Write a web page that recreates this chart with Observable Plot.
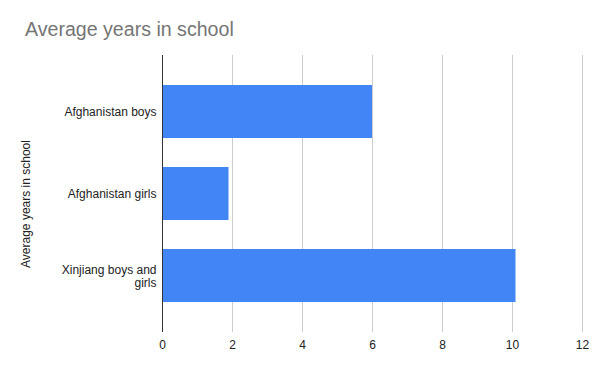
<!DOCTYPE html>
<html>
<head>
<meta charset="utf-8">
<script src="https://cdn.jsdelivr.net/npm/d3@7"></script>
<script src="https://cdn.jsdelivr.net/npm/@observablehq/plot@0.6"></script>
<style>
  html, body { margin: 0; padding: 0; background: #fff; }
  #wrap { position: relative; width: 600px; height: 371px; font-family: "Liberation Sans", Arial, sans-serif; }
  #title { position: absolute; left: 25px; top: 18px; font-size: 19.6px; color: #757575; white-space: nowrap; }
  #ylab { position: absolute; left: 26px; top: 204px; font-size: 12px; color: #222; white-space: nowrap;
          transform: translate(-50%, -50%) rotate(-90deg); }
</style>
</head>
<body>
<div id="wrap">
  <div id="chart"></div>
  <div id="title">Average years in school</div>
  <div id="ylab">Average years in school</div>
</div>
<script>
const categories = ["Afghanistan boys", "Afghanistan girls", "Xinjiang boys and girls"];
const values = [6.0, 1.9, 10.1];
const xTicks = [0, 2, 4, 6, 8, 10, 12];

const data = categories.map((c, i) => ({category: c, value: values[i]}));

const chart = Plot.plot({
  width: 600,
  height: 371,
  marginLeft: 162,
  marginRight: 18,
  marginTop: 55,
  marginBottom: 39,
  style: {fontFamily: "'Liberation Sans', Arial, sans-serif", fontSize: "12px", color: "#222", background: "#fff"},
  x: {domain: [0, 12], label: null},
  y: {domain: categories, padding: 0.35, label: null},
  marks: [
    Plot.gridX(xTicks, {stroke: "#cccccc", strokeOpacity: 1, strokeWidth: 1}),
    Plot.barX(data, {x: "value", y: "category", fill: "#4285f4"}),
    Plot.ruleX([0], {stroke: "#333333", strokeWidth: 1}),
    Plot.axisX(xTicks, {tickSize: 0, tickPadding: 8, fontSize: 12, fill: "#222", label: null}),
    Plot.axisY({tickSize: 0, tickPadding: 6, fontSize: 12, fill: "#222", label: null, lineWidth: 9, lineHeight: 1.1})
  ]
});
document.getElementById("chart").appendChild(chart);
</script>
</body>
</html>
